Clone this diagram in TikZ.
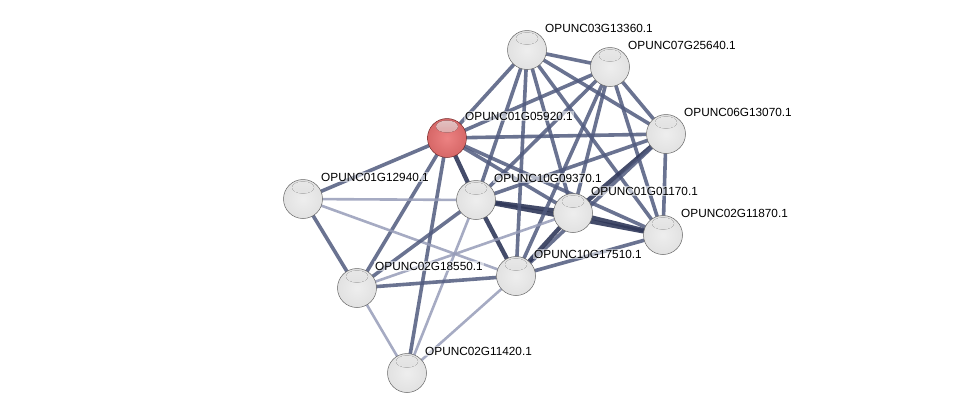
\documentclass[tikz,border=0pt]{standalone}
\usepackage{fontspec}
\setmainfont{Liberation Sans}
\usetikzlibrary{calc}
\definecolor{edgecol}{RGB}{80,90,126}
\definecolor{edgedark}{RGB}{48,56,90}
\definecolor{edgelight}{RGB}{150,156,184}
\definecolor{gbA}{RGB}{238,238,238}
\definecolor{gbB}{RGB}{224,224,224}
\definecolor{gbC}{RGB}{188,188,188}
\definecolor{gbD}{RGB}{125,125,125}
\definecolor{rbA}{RGB}{236,130,130}
\definecolor{rbB}{RGB}{212,100,100}
\definecolor{rbC}{RGB}{172,72,72}
\definecolor{rbD}{RGB}{115,42,42}
\pgfdeclareradialshading{grayball}{\pgfpoint{0bp}{0bp}}{color(0bp)=(gbA); color(28bp)=(gbB); color(44bp)=(gbC); color(50bp)=(gbD); color(100bp)=(gbD)}
\pgfdeclareradialshading{redball}{\pgfpoint{0bp}{0bp}}{color(0bp)=(rbA); color(28bp)=(rbB); color(44bp)=(rbC); color(50bp)=(rbD); color(100bp)=(rbD)}
\begin{document}
\begin{tikzpicture}[x=1pt,y=-1pt,
  edge/.style={draw=edgecol,line width=3.6pt,opacity=0.85},
  edgedk/.style={draw=edgedark,line width=4.4pt,opacity=0.9},
  edgelt/.style={draw=edgelight,line width=2.6pt,opacity=0.85},
  protein/.style={circle,minimum size=39pt,inner sep=0pt,shading=grayball,draw=gray!80!black,line width=0.5pt,
    path picture={\fill[top color=white,bottom color=gbA,opacity=0.9] ($(path picture bounding box.north)+(0,8)$) ellipse (11 and 6);}},
  query/.style={protein,shading=redball,draw=rbD,
    path picture={\fill[top color=white!70!rbA,bottom color=rbA,opacity=0.9] ($(path picture bounding box.north)+(0,8)$) ellipse (11 and 6);}},
  lbl/.style={anchor=west,font=\fontsize{11.8}{13}\selectfont,inner sep=1pt,fill=white,fill opacity=0.55,text opacity=1}]
\useasboundingbox (0,0) rectangle (976,418);
% node coordinates
\coordinate (a) at (527,50);   % 03G13360
\coordinate (b) at (610,67);   % 07G25640
\coordinate (c) at (666,134);  % 06G13070
\coordinate (r) at (447,138);  % 01G05920
\coordinate (d) at (303,199);  % 01G12940
\coordinate (e) at (476,200);  % 10G09370
\coordinate (f) at (573,213);  % 01G01170
\coordinate (g) at (663,235);  % 02G11870
\coordinate (h) at (516,276);  % 10G17510
\coordinate (i) at (357,288);  % 02G18550
\coordinate (j) at (407,373);  % 02G11420
% edges
\draw[edge] (r) -- (a);
\draw[edge] (r) -- (b);
\draw[edge] (r) -- (c);
\draw[edge] (r) -- (d);
\draw[edgedk] (r) -- (e);
\draw[edge] (r) -- (f);
\draw[edge] (r) -- (g);
\draw[edge] (r) -- (i);
\draw[edge] (r) -- (j);
\draw[edgelt] (d) -- (e);
\draw[edgelt] (d) -- (h);
\draw[edge] (d) -- (i);
\draw[edge] (e) -- (a);
\draw[edge] (e) -- (b);
\draw[edge] (e) -- (c);
\draw[edgedk] (e) -- (f);
\draw[edgedk] (e) -- (g);
\draw[edgedk] (e) -- (h);
\draw[edge] (e) -- (i);
\draw[edgelt] (e) -- (j);
\draw[edge] (a) -- (b);
\draw[edge] (a) -- (c);
\draw[edge] (a) -- (f);
\draw[edge] (a) -- (g);
\draw[edge] (a) -- (h);
\draw[edge] (b) -- (c);
\draw[edge] (b) -- (f);
\draw[edge] (b) -- (g);
\draw[edge] (b) -- (h);
\draw[edge] (c) -- (g);
\draw[edgedk] (c) -- (f);
\draw[edge] (c) -- (h);
\draw[edgedk] (f) -- (g);
\draw[edgedk] (f) -- (h);
\draw[edgelt] (f) -- (i);
\draw[edge] (g) -- (h);
\draw[edge] (h) -- (i);
\draw[edgelt] (h) -- (j);
\draw[edgelt] (i) -- (j);
% nodes
\node[protein] (na) at (a) {};
\node[protein] (nb) at (b) {};
\node[protein] (nc) at (c) {};
\node[query]   (nr) at (r) {};
\node[protein] (nd) at (d) {};
\node[protein] (ne) at (e) {};
\node[protein] (nf) at (f) {};
\node[protein] (ng) at (g) {};
\node[protein] (nh) at (h) {};
\node[protein] (ni) at (i) {};
\node[protein] (nj) at (j) {};
% labels
\node[lbl] (la) at ($(a)+(17,-22)$) {OPUNC03G13360.1};
\node[lbl] (lb) at ($(b)+(17,-22)$) {OPUNC07G25640.1};
\node[lbl] (lc) at ($(c)+(17,-22)$) {OPUNC06G13070.1};
\node[lbl] (lr) at ($(r)+(17,-22)$) {OPUNC01G05920.1};
\node[lbl] (ld) at ($(d)+(17,-22)$) {OPUNC01G12940.1};
\node[lbl] (le) at ($(e)+(17,-22)$) {OPUNC10G09370.1};
\node[lbl] (lf) at ($(f)+(17,-22)$) {OPUNC01G01170.1};
\node[lbl] (lg) at ($(g)+(17,-22)$) {OPUNC02G11870.1};
\node[lbl] (lh) at ($(h)+(17,-22)$) {OPUNC10G17510.1};
\node[lbl] (li) at ($(i)+(17,-22)$) {OPUNC02G18550.1};
\node[lbl] (lj) at ($(j)+(17,-22)$) {OPUNC02G11420.1};
\end{tikzpicture}
\end{document}
